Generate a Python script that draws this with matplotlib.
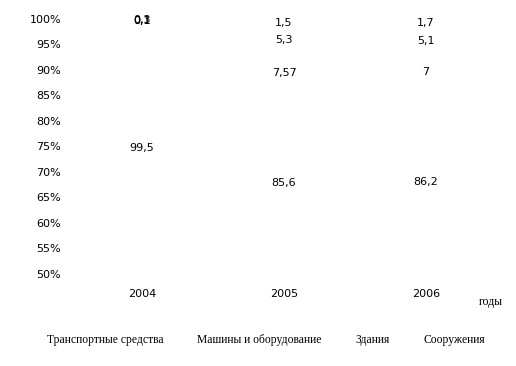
import numpy as np
import matplotlib
matplotlib.use('Agg')
import matplotlib.pyplot as plt

years = ['2004', '2005', '2006']
series = ['Транспортные средства', 'Машины и оборудование', 'Здания', 'Сооружения']
transport = [99.5, 85.6, 86.2]
machines = [0.1, 7.57, 7]
buildings = [0.1, 5.3, 5.1]
structures = [0.3, 1.5, 1.7]
values = [transport, machines, buildings, structures]

fig = plt.figure(figsize=(5.16, 3.66), dpi=100)
ax = fig.add_axes([71/516, 1-274/366, 426/516, 255/366])

x = np.arange(len(years))
bottom = np.zeros(len(years))
for name, vals in zip(series, values):
    vals = np.array(vals, dtype=float)
    ax.bar(x, vals, bottom=bottom, width=0.6, color='white', edgecolor='none', label=name)
    for i, v in enumerate(vals):
        lo = max(bottom[i], 50)
        hi = bottom[i] + v
        ax.text(x[i], (lo + hi) / 2, f"{v:g}".replace('.', ','), ha='center', va='center',
                fontsize=8, family='DejaVu Sans', color='black')
    bottom += vals

ax.set_ylim(50, 100)
ax.set_xlim(-0.5, 2.5)
ax.set_yticks(np.arange(50, 101, 5))
ax.set_yticklabels([f"{t}%" for t in range(50, 101, 5)])
ax.set_xticks(x)
ax.set_xticklabels(years)
ax.tick_params(axis='y', length=0, pad=7, labelsize=8)
ax.tick_params(axis='x', length=0, pad=11, labelsize=8)
for s in ax.spines.values():
    s.set_visible(False)

fig.text(479/516, 1-302/366, 'годы', family='Liberation Serif', fontsize=8.5, va='center', ha='left')

fig.legend(loc='center', bbox_to_anchor=(259/516, 1-340/366), ncol=4, frameon=False,
           prop={'family': 'Liberation Serif', 'size': 8.4},
           handlelength=0.7, handletextpad=0.5, columnspacing=1.68)

fig.savefig('out.png', dpi=100, facecolor='white')
